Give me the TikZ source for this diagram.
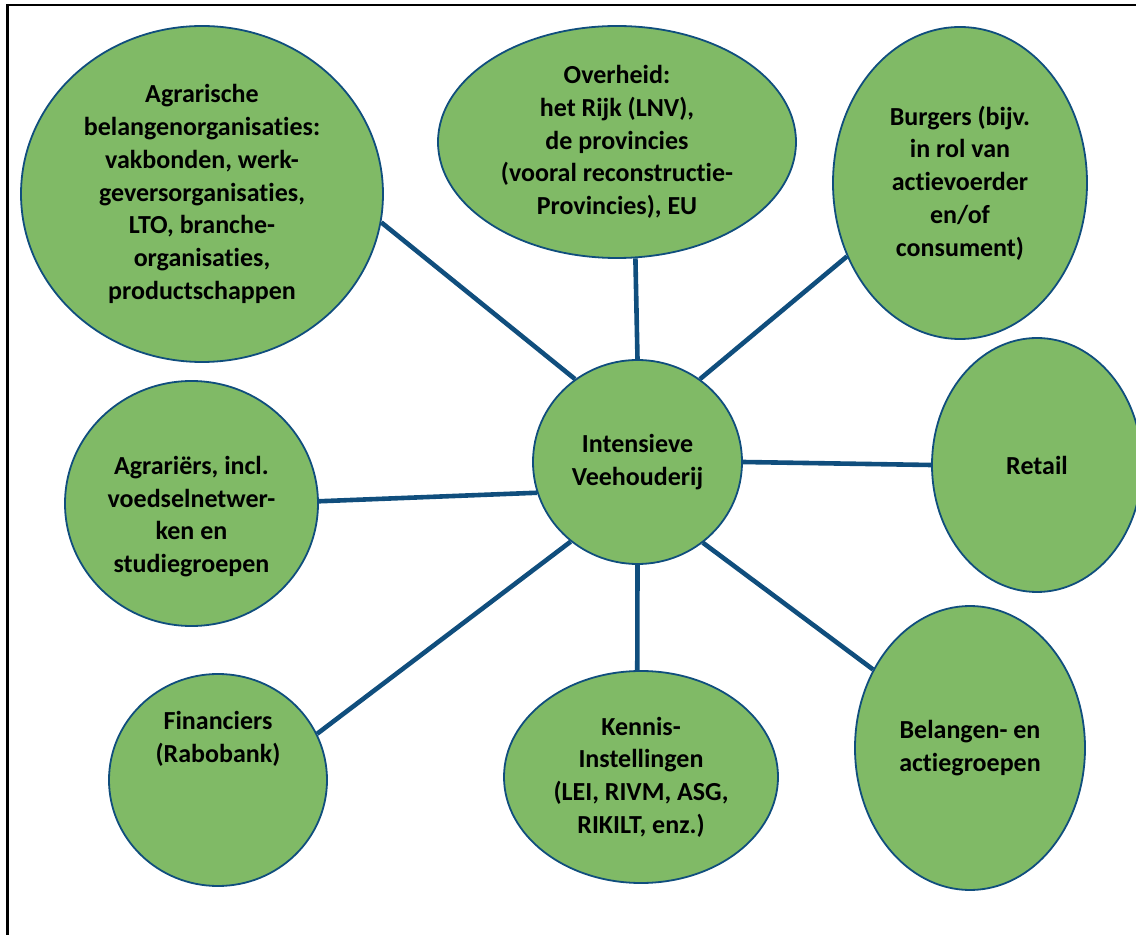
\documentclass[tikz,border=0pt]{standalone}
\usepackage{fontspec}
\setmainfont{Carlito}[Ligatures=NoCommon]
\usetikzlibrary{shapes.geometric}
\definecolor{leaf}{RGB}{128,186,102}
\definecolor{ink}{RGB}{16,78,125}
\newcommand{\actorfont}{\fontsize{13}{16.35}\selectfont\bfseries}

\begin{document}
\begin{tikzpicture}[x=0.5pt,y=-0.5pt,
        actor/.style={ellipse,draw=ink,line width=0.9pt,fill=leaf,inner sep=0pt,align=center,font=\actorfont},
        blurb/.style={align=center,font=\actorfont},
        link/.style={draw=ink,line width=2.3pt}]
        \clip (0,0) rectangle (1136,935);
        \draw[line width=1.3pt] (7.5,5) rectangle (1200,1000);
        \path
        % top row
        +(202,194)   node[actor,minimum width=181pt,minimum height=168pt] (agr) {Agrarische\\belangenorganisaties:\\vakbonden, werk-\\geversorganisaties,\\LTO, branche-\\organisaties,\\productschappen}
        +(617,142)   node[actor,minimum width=179pt,minimum height=116pt] (ovh) {Overheid:\\het Rijk (LNV),\\de provincies\\(vooral reconstructie-\\Provincies), EU}
        +(960,183)   node[actor,minimum width=127pt,minimum height=156pt] (brg) {Burgers (bijv.\\in rol van\\actievoerder\\en/of\\consument)}
        % middle row
        +(191.5,503.5) node[actor,minimum width=126.5pt,minimum height=122.5pt,
                label={[blurb,yshift=-6.5pt]center:{Agrariërs, incl.\\voedselnetwer-\\ken en\\studiegroepen}}] (agd) {}
        +(637.5,462) node[actor,minimum width=104.5pt,minimum height=102pt] (ctr) {Intensieve\\Veehouderij}
        +(1037,465)  node[actor,minimum width=105pt,minimum height=127pt] (ret) {Retail}
        % bottom row
        +(218,780)   node[actor,minimum width=109pt,minimum height=106pt,
                label={[blurb,yshift=20.75pt]center:{Financiers\\(Rabobank)}}] (fin) {}
        +(641,777)   node[actor,minimum width=137pt,minimum height=106pt] (ken) {Kennis-\\Instellingen\\(LEI, RIVM, ASG,\\RIKILT, enz.)}
        +(970,748)   node[actor,minimum width=115pt,minimum height=142pt] (blg) {Belangen- en\\actiegroepen};

        \draw[link] (ctr.127)--(agr.-9.9);
        \draw[link] (ctr.90)--(ovh.-81);
        \draw[link] (ctr.53.4)--(brg.213.8);
        \draw[link] (ctr.197)--(agd.1.4);
        \draw[link] (ctr.0)--(ret.180);
        \draw[link] (ctr.230)--(fin.25);
        \draw[link] (ctr.-90)--(ken.92);
        \draw[link] (ctr.-51.7)--(blg.141.9);
    \end{tikzpicture}
\end{document}
